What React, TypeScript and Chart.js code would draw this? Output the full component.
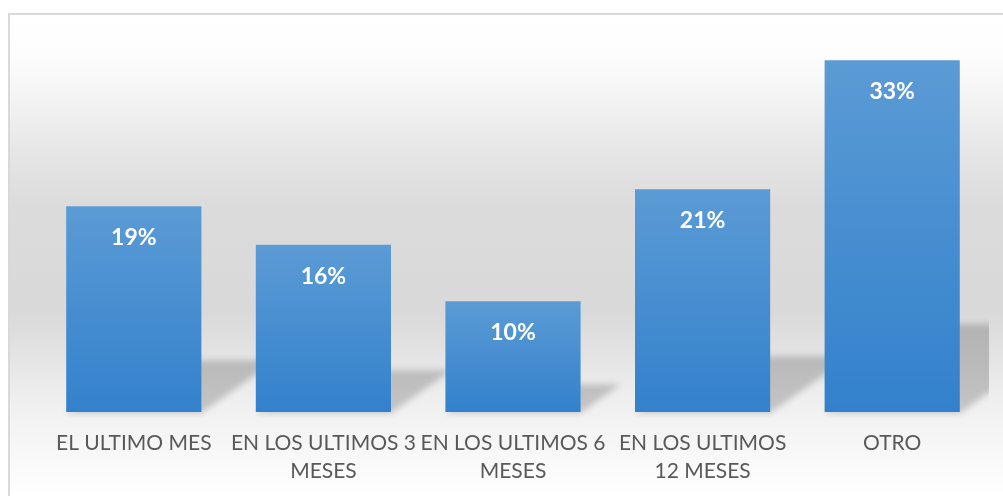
import React, { useEffect, useRef } from 'react';
import { Chart, registerables } from 'chart.js';

Chart.register(...registerables);

const categories: string[][] = [
  ['EL ULTIMO MES'],
  ['EN LOS ULTIMOS 3', 'MESES'],
  ['EN LOS ULTIMOS 6', 'MESES'],
  ['EN LOS ULTIMOS', '12 MESES'],
  ['OTRO'],
];
const values: number[] = [19.3, 15.7, 10.4, 20.9, 33.0];
const yMax = 35;

const W = 1003;
const H = 496;

const backgroundPlugin = {
  id: 'bgPlugin',
  beforeDraw(chart: any) {
    const ctx = chart.ctx as CanvasRenderingContext2D;
    ctx.save();
    ctx.fillStyle = '#ffffff';
    ctx.fillRect(0, 0, chart.width, chart.height);
    const g = ctx.createLinearGradient(0, 14, 0, chart.height);
    const stops: [number, string][] = [
      [14, '#ffffff'],
      [55, '#fdfdfd'],
      [100, '#f3f3f3'],
      [160, '#e4e4e4'],
      [210, '#dbdbdb'],
      [310, '#d9d9d9'],
      [350, '#e2e2e2'],
      [395, '#eeeeee'],
      [430, '#f4f4f4'],
      [496, '#ffffff'],
    ];
    const span = chart.height - 14;
    stops.forEach(([y, c]) => g.addColorStop(Math.min(1, Math.max(0, (y - 14) / span)), c));
    ctx.fillStyle = g;
    ctx.fillRect(9, 14, chart.width - 9, chart.height - 14);
    ctx.strokeStyle = '#d9d9d9';
    ctx.lineWidth = 2;
    ctx.strokeRect(9, 14, chart.width + 10, chart.height + 10);
    ctx.restore();
  },
};

const shadowPlugin = {
  id: 'shadowPlugin',
  beforeDatasetsDraw(chart: any) {
    const ctx = chart.ctx as CanvasRenderingContext2D;
    const area = chart.chartArea;
    const meta = chart.getDatasetMeta(0);
    ctx.save();
    ctx.beginPath();
    ctx.rect(area.left - 20, area.top, area.right - area.left + 22, area.bottom - area.top + 6);
    ctx.clip();
    ctx.filter = 'blur(3px)';
    ctx.fillStyle = 'rgba(0,0,0,0.19)';
    meta.data.forEach((bar: any) => {
      const { x, y, base, width } = bar.getProps(['x', 'y', 'base', 'width'], true);
      const h = base - y;
      const x0 = x - width / 2;
      const x1 = x + width / 2;
      const dx = 0.36 * h;
      const dy = 0.25 * h;
      ctx.beginPath();
      ctx.moveTo(x0, base + 1);
      ctx.lineTo(x1, base + 1);
      ctx.lineTo(x1 + dx, base - dy);
      ctx.lineTo(x0 + dx, base - dy);
      ctx.closePath();
      ctx.fill();
    });
    ctx.restore();
  },
};

const labelPlugin = {
  id: 'labelPlugin',
  afterDatasetsDraw(chart: any) {
    const ctx = chart.ctx as CanvasRenderingContext2D;
    const meta = chart.getDatasetMeta(0);
    ctx.save();
    ctx.font = 'bold 23px Lato';
    ctx.fillStyle = '#ffffff';
    ctx.textAlign = 'center';
    ctx.textBaseline = 'alphabetic';
    meta.data.forEach((bar: any, i: number) => {
      const { x, y } = bar.getProps(['x', 'y'], true);
      ctx.fillText(Math.round(values[i]) + '%', x, y + 39);
    });
    ctx.restore();
  },
};

export default function App() {
  const ref = useRef<HTMLCanvasElement | null>(null);

  useEffect(() => {
    document.body.style.margin = '0';
    if (!ref.current) return;
    const chart = new Chart(ref.current, {
      type: 'bar',
      data: {
        labels: categories,
        datasets: [
          {
            data: values,
            backgroundColor: (c: any) => {
              const ch = c.chart;
              if (!ch.chartArea || c.raw == null) return '#4a8fd2';
              const ys = ch.scales.y;
              const top = ys.getPixelForValue(c.raw as number);
              const base = ys.getPixelForValue(0);
              const g = ch.ctx.createLinearGradient(0, top, 0, base);
              g.addColorStop(0, '#5b9bd5');
              g.addColorStop(1, '#3381cc');
              return g;
            },
            borderWidth: 0,
            categoryPercentage: 1,
            barPercentage: 0.713,
          },
        ],
      },
      options: {
        responsive: false,
        animation: false,
        maintainAspectRatio: false,
        layout: { padding: { left: 39, right: 16, top: 39, bottom: 0 } },
        plugins: {
          legend: { display: false },
          tooltip: { enabled: false },
        },
        scales: {
          y: { display: false, min: 0, max: yMax },
          x: {
            grid: { display: false, drawTicks: false },
            border: { display: false },
            afterFit: (scale: any) => {
              scale.height = 84;
            },
            ticks: {
              color: '#595959',
              font: { family: 'Lato', size: 21, lineHeight: 1.367 },
              padding: 16.6,
              maxRotation: 0,
              autoSkip: false,
            },
          },
        },
      },
      plugins: [backgroundPlugin, shadowPlugin, labelPlugin],
    });
    return () => chart.destroy();
  }, []);

  return (
    <div style={{ width: W, height: H }}>
      <canvas ref={ref} width={W} height={H} style={{ display: 'block', width: W, height: H }} />
    </div>
  );
}
